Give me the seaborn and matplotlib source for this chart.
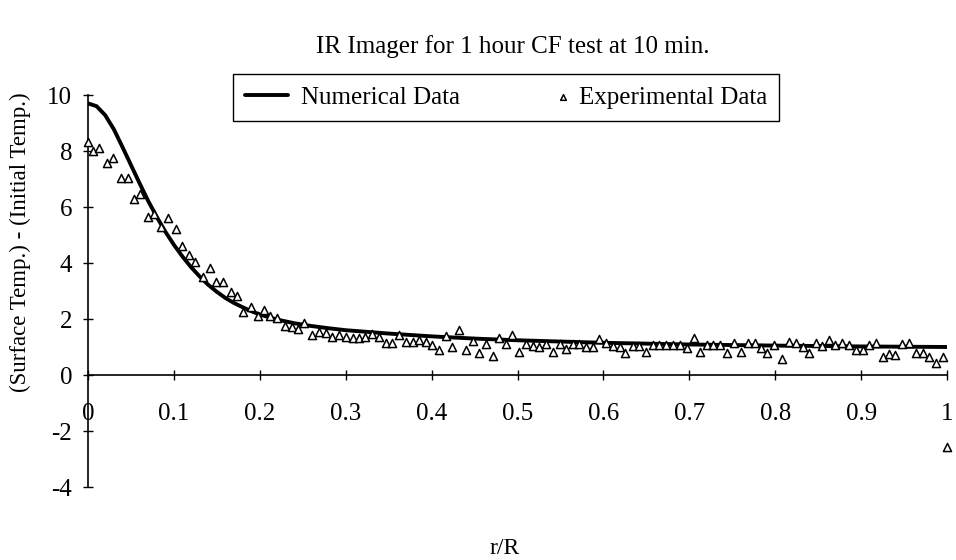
import numpy as np
import pandas as pd
import matplotlib
matplotlib.use("Agg")
import matplotlib.pyplot as plt
import seaborn as sns
from matplotlib.legend_handler import HandlerPathCollection

# ---------------- data ----------------
title_text = "IR Imager for 1 hour CF test at 10 min."
x_label = "r/R"
y_label = "(Surface Temp.) - (Initial Temp.)"
series_names = ["Numerical Data", "Experimental Data"]

num_r = [0.00, 0.01, 0.02, 0.03, 0.04, 0.05, 0.06, 0.07, 0.08, 0.09,
         0.10, 0.11, 0.12, 0.13, 0.14, 0.15, 0.16, 0.17, 0.18, 0.19,
         0.20, 0.22, 0.24, 0.26, 0.28, 0.30, 0.35, 0.40, 0.45, 0.50,
         0.60, 0.70, 0.80, 0.90, 1.00]
num_dt = [9.70, 9.60, 9.28, 8.78, 8.15, 7.50, 6.85, 6.22, 5.65, 5.12,
          4.65, 4.23, 3.85, 3.52, 3.22, 2.97, 2.75, 2.57, 2.42, 2.28,
          2.16, 1.98, 1.85, 1.75, 1.67, 1.60, 1.48, 1.38, 1.30, 1.24,
          1.15, 1.09, 1.05, 1.02, 1.00]

exp_r = [0.000, 0.006, 0.013, 0.022, 0.029, 0.038, 0.046, 0.054, 0.061, 0.070,
         0.077, 0.085, 0.093, 0.102, 0.109, 0.117, 0.125, 0.134, 0.142, 0.149,
         0.157, 0.166, 0.174, 0.181, 0.190, 0.198, 0.205, 0.212, 0.220, 0.229,
         0.237, 0.244, 0.252, 0.261, 0.269, 0.277, 0.284, 0.292, 0.300, 0.308,
         0.315, 0.323, 0.331, 0.339, 0.347, 0.354, 0.362, 0.370, 0.378, 0.385,
         0.393, 0.401, 0.409, 0.417, 0.424, 0.432, 0.440, 0.448, 0.455, 0.463,
         0.471, 0.479, 0.487, 0.494, 0.502, 0.510, 0.518, 0.525, 0.533, 0.541,
         0.549, 0.557, 0.565, 0.572, 0.580, 0.588, 0.595, 0.603, 0.611, 0.619,
         0.625, 0.634, 0.642, 0.650, 0.658, 0.665, 0.673, 0.681, 0.689, 0.697,
         0.705, 0.713, 0.721, 0.728, 0.736, 0.744, 0.752, 0.760, 0.768, 0.776,
         0.783, 0.791, 0.799, 0.808, 0.816, 0.824, 0.832, 0.839, 0.847, 0.855,
         0.863, 0.870, 0.878, 0.886, 0.894, 0.902, 0.909, 0.917, 0.925, 0.933,
         0.940, 0.948, 0.956, 0.964, 0.972, 0.979, 0.987, 0.995, 1.000]
exp_dt = [8.33, 8.00, 8.12, 7.56, 7.74, 7.02, 7.05, 6.29, 6.45, 5.65,
          5.75, 5.30, 5.62, 5.20, 4.62, 4.28, 4.03, 3.51, 3.81, 3.32,
          3.32, 2.98, 2.82, 2.26, 2.42, 2.10, 2.33, 2.10, 2.04, 1.74,
          1.73, 1.65, 1.86, 1.43, 1.55, 1.49, 1.34, 1.43, 1.37, 1.31,
          1.31, 1.37, 1.46, 1.34, 1.13, 1.13, 1.43, 1.19, 1.19, 1.25,
          1.19, 1.07, 0.89, 1.41, 1.00, 1.60, 0.90, 1.21, 0.80, 1.10,
          0.69, 1.31, 1.10, 1.44, 0.83, 1.10, 1.05, 1.01, 1.10, 0.83,
          1.10, 0.94, 1.12, 1.10, 1.01, 1.01, 1.27, 1.15, 1.04, 1.01,
          0.80, 1.04, 1.04, 0.83, 1.07, 1.07, 1.07, 1.07, 1.07, 0.95,
          1.31, 0.83, 1.07, 1.07, 1.07, 0.77, 1.13, 0.83, 1.13, 1.13,
          0.95, 0.77, 1.07, 0.57, 1.19, 1.13, 1.01, 0.80, 1.15, 1.04,
          1.25, 1.07, 1.15, 1.07, 0.89, 0.89, 1.07, 1.13, 0.63, 0.75,
          0.71, 1.11, 1.15, 0.77, 0.77, 0.63, 0.42, 0.63, -2.56]

x_ticks = [0.0, 0.1, 0.2, 0.3, 0.4, 0.5, 0.6, 0.7, 0.8, 0.9, 1.0]
x_tick_labels = ["0", "0.1", "0.2", "0.3", "0.4", "0.5", "0.6", "0.7", "0.8", "0.9", "1"]
y_ticks = [-4, -2, 0, 2, 4, 6, 8, 10]
y_tick_labels = ["-4", "-2", "0", "2", "4", "6", "8", "10"]

# ---------------- style ----------------
sns.set_style("ticks")
plt.rcParams['font.family'] = ['Liberation Serif', 'DejaVu Serif']
plt.rcParams['text.color'] = 'black'
plt.rcParams['xtick.color'] = 'black'
plt.rcParams['ytick.color'] = 'black'

W, H = 956, 560
fig = plt.figure(figsize=(W / 100, H / 100), dpi=100)
ax = fig.add_axes([88 / W, (H - 487) / H, (947 - 88) / W, (487 - 95) / H])

num_df = pd.DataFrame({"r": num_r, "dT": num_dt})
exp_df = pd.DataFrame({"r": exp_r, "dT": exp_dt})

sns.lineplot(data=num_df, x="r", y="dT", ax=ax, color="black", linewidth=2.8,
             sort=False, estimator=None, label=series_names[0], zorder=2)
sns.scatterplot(data=exp_df, x="r", y="dT", ax=ax, marker="^", s=34,
                color="white", edgecolor="black", linewidth=1.1,
                label=series_names[1], clip_on=False, zorder=3)

ax.set_xlim(0, 1)
ax.set_ylim(-4, 10)
ax.set_xlabel("")
ax.set_ylabel("")
for side in ["top", "right"]:
    ax.spines[side].set_visible(False)
ax.spines["bottom"].set_position(("data", 0))
ax.spines["left"].set_position(("data", 0))
for side in ["bottom", "left"]:
    ax.spines[side].set_color("black")
    ax.spines[side].set_linewidth(1.2)

ax.set_xticks(x_ticks, x_tick_labels)
ax.set_yticks(y_ticks, y_tick_labels)
ax.tick_params(axis="both", direction="inout", length=7, width=1.0,
               colors="black", labelsize=18, bottom=True, left=True,
               top=False, right=False)
ax.tick_params(axis="x", pad=17)
ax.tick_params(axis="y", pad=8)

# legend
line_handle = ax.get_lines()[0]
pt_handle = ax.collections[0]


class RightMarkerHandler(HandlerPathCollection):
    def get_xdata(self, legend, xdescent, ydescent, width, height, fontsize):
        x = np.array([-xdescent + width - 0.1 * fontsize])
        return x, x


leg = ax.legend(handles=[line_handle, pt_handle], labels=series_names,
                loc="center", bbox_to_anchor=(506 / W, 1 - 97.5 / H),
                bbox_transform=fig.transFigure, ncol=2, frameon=True,
                fancybox=False, edgecolor="black", framealpha=1,
                fontsize=18, handlelength=1.72, handletextpad=0.52,
                columnspacing=2.5, borderpad=0.5, scatterpoints=1,
                markerscale=0.7,
                handler_map={pt_handle: RightMarkerHandler()})
leg.get_frame().set_linewidth(1.0)

fig.text(513 / W, 1 - 47 / H, title_text, ha="center", va="center", fontsize=18)
fig.text(505 / W, 1 - 548 / H, x_label, ha="center", va="center", fontsize=17)
fig.text(20 / W, 1 - 242 / H, y_label, ha="center", va="center",
         rotation=90, fontsize=16.5)

fig.savefig("out.png", dpi=100, facecolor="white")
